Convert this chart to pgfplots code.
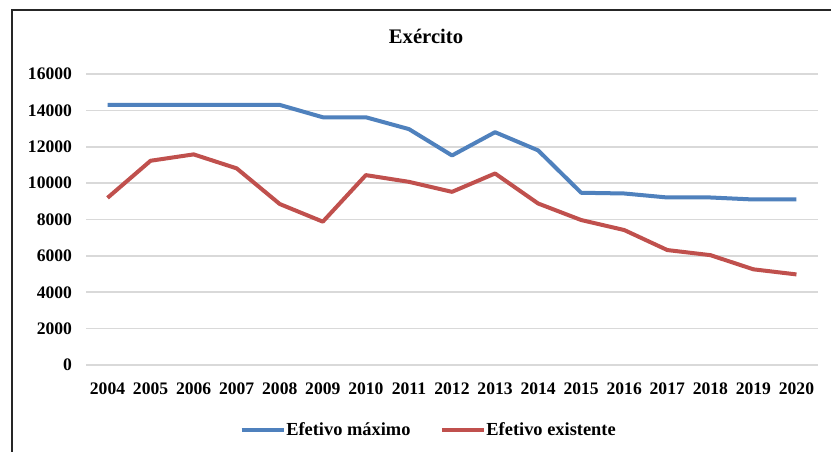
\documentclass[border=0pt]{standalone}
\usepackage{pgfplots}
\pgfplotsset{compat=1.18}
\usepackage{fontspec}
\setmainfont{Liberation Serif}
\definecolor{exblue}{HTML}{4F81BD}
\definecolor{exred}{HTML}{C0504D}
\definecolor{gridgray}{HTML}{D9D9D9}
\begin{document}
\begin{tikzpicture}
\useasboundingbox (0pt,0pt) rectangle (623.25pt,339pt);
\fill[white] (0pt,0pt) rectangle (623.25pt,339pt);
\draw[line width=1.1pt, black!85] (9pt,-15pt) rectangle (637.5pt,331.5pt);
\begin{axis}[
  at={(64.5pt,65.25pt)}, anchor=south west,
  scale only axis, width=549pt, height=218.25pt,
  xmin=2003.5, xmax=2020.5, ymin=0, ymax=16000,
  xtick={2004,2005,...,2020},
  ytick={0,2000,...,16000},
  scaled y ticks=false,
  /pgf/number format/1000 sep={},
  /pgf/number format/assume math mode=true,
  axis line style={draw=none},
  major tick style={draw=none},
  ymajorgrids, xmajorgrids=false,
  major grid style={gridgray, line width=1.2pt},
  tick label style={font=\bfseries\fontsize{13.2}{15}\selectfont, text=black},
  yticklabel style={xshift=-7pt},
  xticklabel style={yshift=-10pt},
  title={\bfseries Exército},
  title style={at={(0.4645,1.079)}, anchor=base, font=\fontsize{15.5}{18}\selectfont},
  legend style={at={(0.4686,-0.2234)}, anchor=center, draw=none, fill=none,
    legend columns=2, font=\bfseries\fontsize{13.8}{16}\selectfont,
    /tikz/every even column/.append style={column sep=20pt},
    /tikz/every odd column/.append style={column sep=-2pt}},
  legend image code/.code={\draw[#1, line width=3pt] (0pt,0pt) -- (32pt,0pt);},
]
\addplot[exblue, line width=3pt, line join=round] coordinates {
(2004,14300) (2005,14300) (2006,14300) (2007,14300) (2008,14300)
(2009,13620) (2010,13620) (2011,12970) (2012,11520) (2013,12800)
(2014,11800) (2015,9470) (2016,9430) (2017,9210) (2018,9210)
(2019,9100) (2020,9100)};
\addlegendentry{Efetivo máximo}
\addplot[exred, line width=3pt, line join=round] coordinates {
(2004,9190) (2005,11230) (2006,11580) (2007,10810) (2008,8850)
(2009,7880) (2010,10440) (2011,10070) (2012,9520) (2013,10530)
(2014,8880) (2015,7970) (2016,7420) (2017,6320) (2018,6040)
(2019,5260) (2020,4980)};
\addlegendentry{Efetivo existente}
\end{axis}
\end{tikzpicture}
\end{document}
